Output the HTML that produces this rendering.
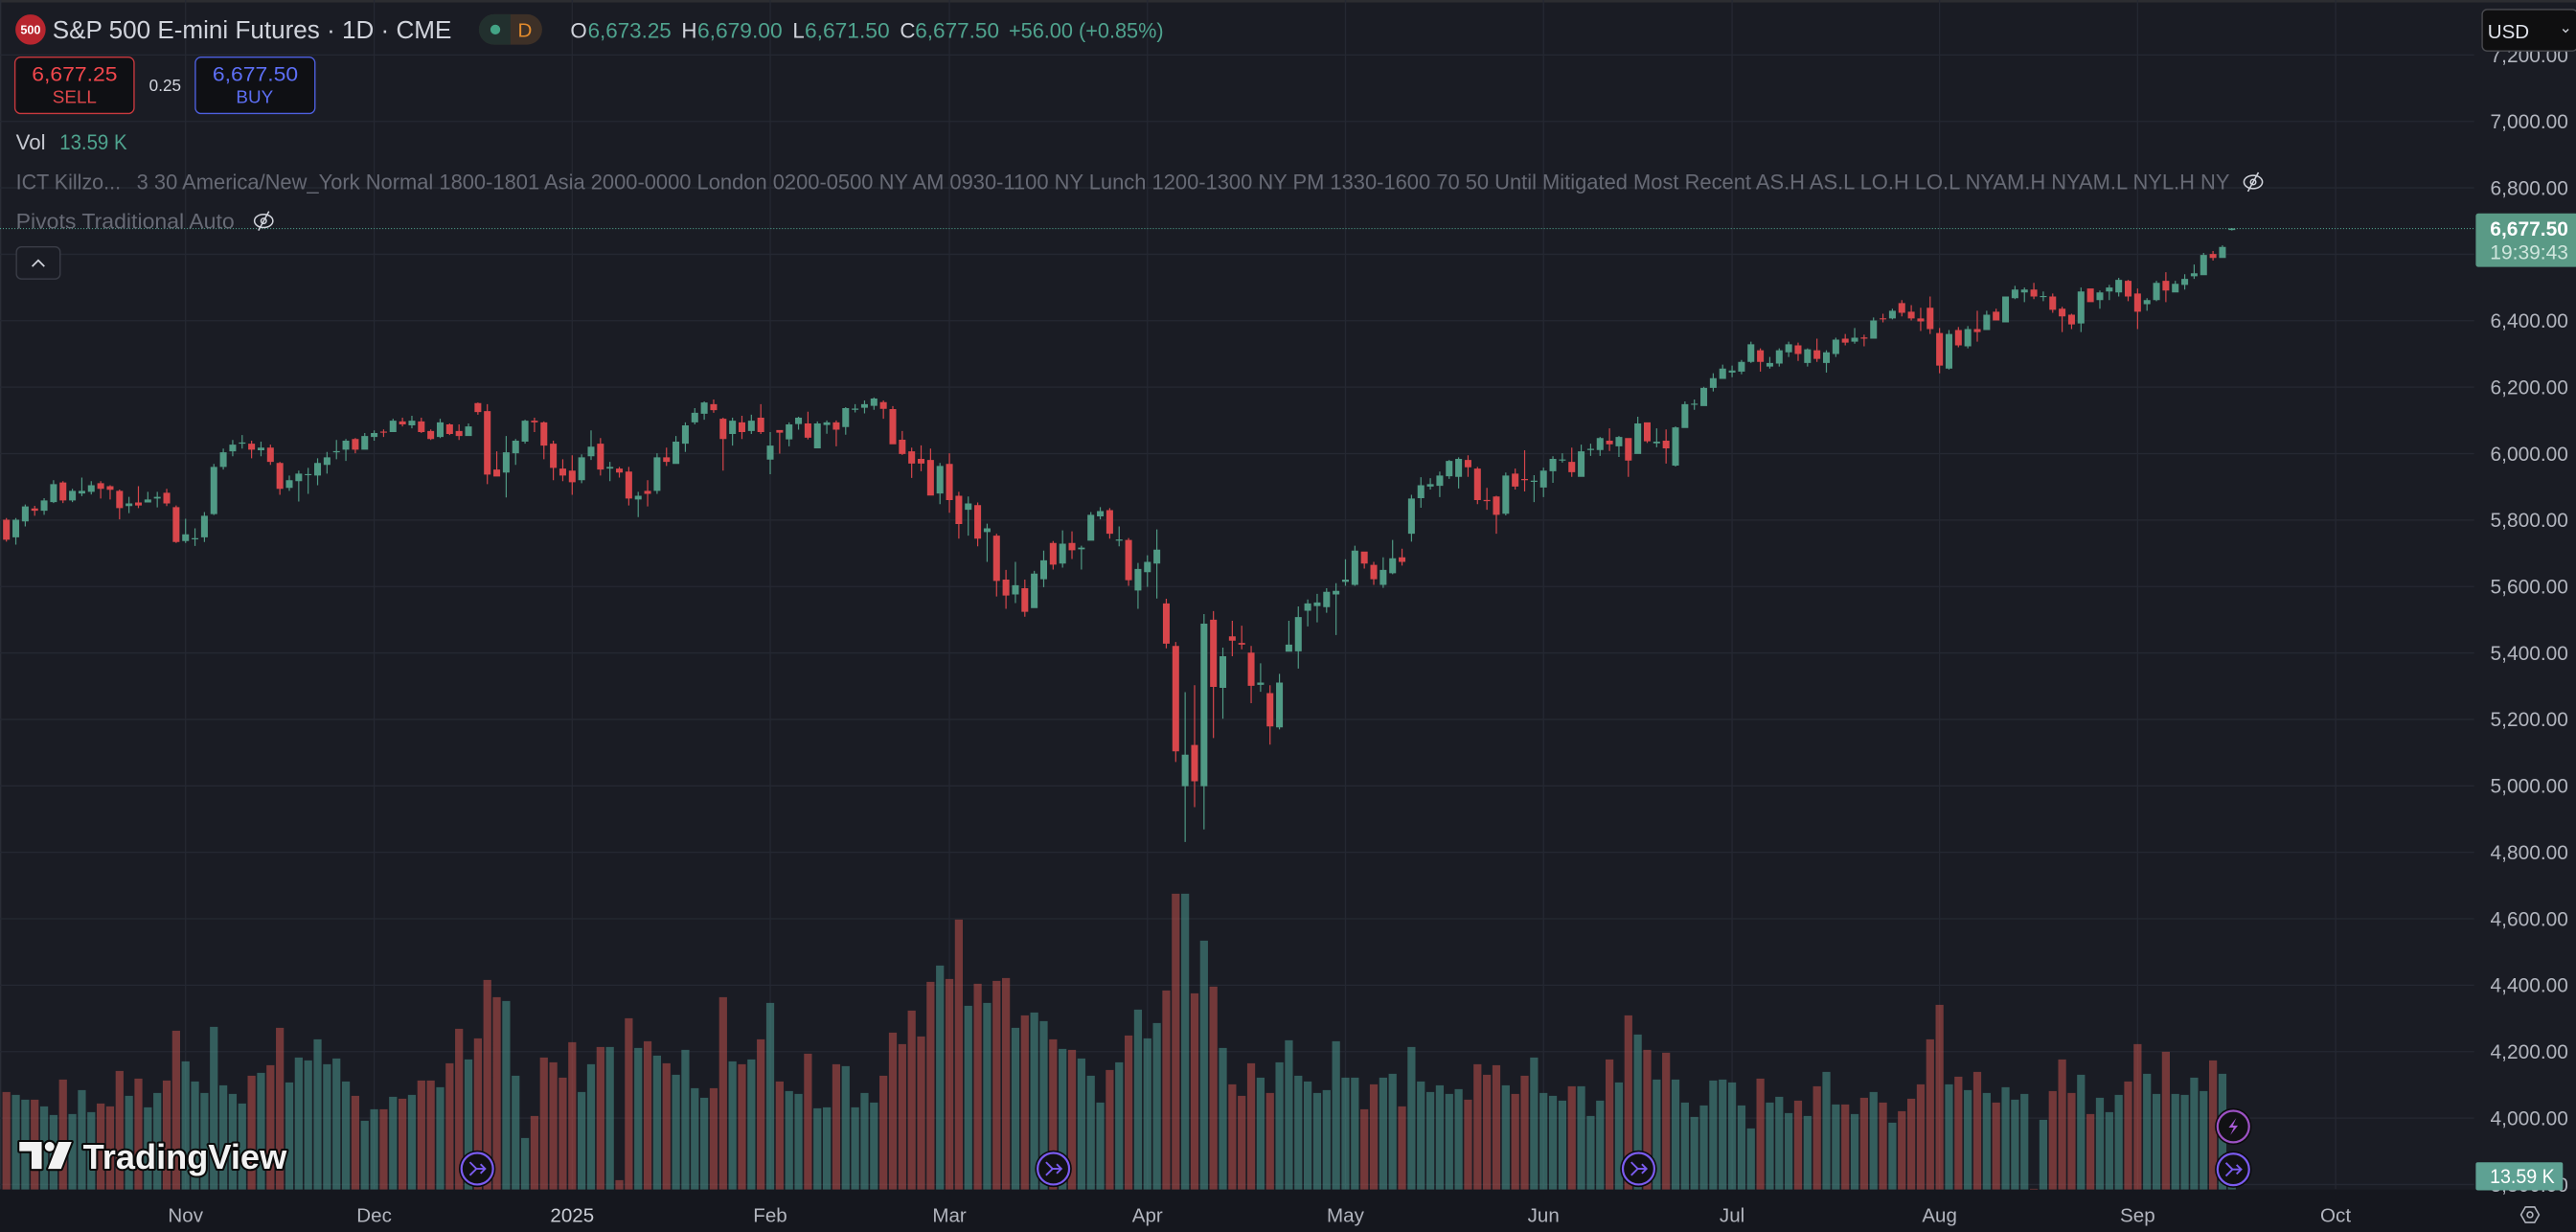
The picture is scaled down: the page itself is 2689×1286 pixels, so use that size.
<!DOCTYPE html>
<html>
<head>
<meta charset="utf-8">
<style>
html,body{margin:0;padding:0;background:#1a1c24;overflow:hidden;}
svg{display:block;}
text{font-family:"Liberation Sans",sans-serif;}
</style>
</head>
<body>
<svg xmlns="http://www.w3.org/2000/svg" width="2689" height="1286" viewBox="0 0 1568 750" preserveAspectRatio="none">
<rect x="0" y="0" width="1568" height="750" fill="#1a1c24"/>
<rect x="0" y="724.1" width="1568" height="26" fill="#15171e"/>
<rect x="0" y="0" width="1568" height="1.5" fill="#2c2d31"/>
<line x1="0.4" y1="0" x2="0.4" y2="724" stroke="#2a2d36" stroke-width="0.8"/>
<g stroke="#252832" stroke-width="0.75">
<line x1="0" x2="1506" y1="33.45" y2="33.45"/>
<line x1="0" x2="1506" y1="73.9" y2="73.9"/>
<line x1="0" x2="1506" y1="114.35" y2="114.35"/>
<line x1="0" x2="1506" y1="154.8" y2="154.8"/>
<line x1="0" x2="1506" y1="195.25" y2="195.25"/>
<line x1="0" x2="1506" y1="235.7" y2="235.7"/>
<line x1="0" x2="1506" y1="276.15" y2="276.15"/>
<line x1="0" x2="1506" y1="316.6" y2="316.6"/>
<line x1="0" x2="1506" y1="357.05" y2="357.05"/>
<line x1="0" x2="1506" y1="397.5" y2="397.5"/>
<line x1="0" x2="1506" y1="437.95" y2="437.95"/>
<line x1="0" x2="1506" y1="478.4" y2="478.4"/>
<line x1="0" x2="1506" y1="518.85" y2="518.85"/>
<line x1="0" x2="1506" y1="559.3" y2="559.3"/>
<line x1="0" x2="1506" y1="599.75" y2="599.75"/>
<line x1="0" x2="1506" y1="640.2" y2="640.2"/>
<line x1="0" x2="1506" y1="680.65" y2="680.65"/>
<line x1="0" x2="1506" y1="721.1" y2="721.1"/>
<line y1="0" y2="724" x1="112.96" x2="112.96"/>
<line y1="0" y2="724" x1="227.76" x2="227.76"/>
<line y1="0" y2="724" x1="348.3" x2="348.3"/>
<line y1="0" y2="724" x1="468.84" x2="468.84"/>
<line y1="0" y2="724" x1="577.9" x2="577.9"/>
<line y1="0" y2="724" x1="698.44" x2="698.44"/>
<line y1="0" y2="724" x1="818.98" x2="818.98"/>
<line y1="0" y2="724" x1="939.52" x2="939.52"/>
<line y1="0" y2="724" x1="1054.32" x2="1054.32"/>
<line y1="0" y2="724" x1="1180.6" x2="1180.6"/>
<line y1="0" y2="724" x1="1301.14" x2="1301.14"/>
<line y1="0" y2="724" x1="1421.68" x2="1421.68"/>
</g>

<!-- Volume -->
<g transform="matrix(5.74 0 0 0.1944 1.5 536.5)">
<path fill="#4ea096" fill-opacity="0.5" d="M1 669h.836V965h-.836zM2 684h.836V965h-.836zM4 705h.836V965h-.836zM5 732h.836V965h-.836zM7 729h.836V965h-.836zM8 654h.836V965h-.836zM9 723h.836V965h-.836zM13 672h.836V965h-.836zM15 708h.836V965h-.836zM16 663h.836V965h-.836zM19 564h.836V965h-.836zM20 627h.836V965h-.836zM21 663h.836V965h-.836zM22 456h.836V965h-.836zM23 639h.836V965h-.836zM24 666h.836V965h-.836zM25 696h.836V965h-.836zM27 600h.836V965h-.836zM30 630h.836V965h-.836zM31 552h.836V965h-.836zM32 561h.836V965h-.836zM33 495h.836V965h-.836zM34 573h.836V965h-.836zM35 555h.836V965h-.836zM36 627h.836V965h-.836zM38 750h.836V965h-.836zM39 714h.836V965h-.836zM41 675h.836V965h-.836zM43 669h.836V965h-.836zM46 645h.836V965h-.836zM49 558h.836V965h-.836zM53 375h.836V965h-.836zM54 609h.836V965h-.836zM55 804h.836V965h-.836zM61 660h.836V965h-.836zM62 573h.836V965h-.836zM64 519h.836V965h-.836zM67 522h.836V965h-.836zM69 546h.836V965h-.836zM71 606h.836V965h-.836zM72 528h.836V965h-.836zM73 648h.836V965h-.836zM74 678h.836V965h-.836zM77 564h.836V965h-.836zM79 558h.836V965h-.836zM81 381h.836V965h-.836zM83 657h.836V965h-.836zM84 666h.836V965h-.836zM86 711h.836V965h-.836zM87 708h.836V965h-.836zM89 579h.836V965h-.836zM90 708h.836V965h-.836zM91 663h.836V965h-.836zM92 693h.836V965h-.836zM99 264h.836V965h-.836zM102 390h.836V965h-.836zM104 381h.836V965h-.836zM107 459h.836V965h-.836zM109 411h.836V965h-.836zM110 438h.836V965h-.836zM112 525h.836V965h-.836zM114 555h.836V965h-.836zM115 609h.836V965h-.836zM116 693h.836V965h-.836zM118 567h.836V965h-.836zM120 402h.836V965h-.836zM121 492h.836V965h-.836zM122 444h.836V965h-.836zM125 39h.836V965h-.836zM127 186h.836V965h-.836zM129 522h.836V965h-.836zM133 615h.836V965h-.836zM135 567h.836V965h-.836zM136 498h.836V965h-.836zM137 609h.836V965h-.836zM138 627h.836V965h-.836zM139 663h.836V965h-.836zM140 654h.836V965h-.836zM141 501h.836V965h-.836zM142 615h.836V965h-.836zM143 615h.836V965h-.836zM146 615h.836V965h-.836zM147 603h.836V965h-.836zM149 519h.836V965h-.836zM150 627h.836V965h-.836zM151 660h.836V965h-.836zM152 639h.836V965h-.836zM153 666h.836V965h-.836zM154 651h.836V965h-.836zM159 639h.836V965h-.836zM162 552h.836V965h-.836zM163 663h.836V965h-.836zM164 672h.836V965h-.836zM165 687h.836V965h-.836zM167 642h.836V965h-.836zM168 735h.836V965h-.836zM169 687h.836V965h-.836zM171 630h.836V965h-.836zM173 480h.836V965h-.836zM175 621h.836V965h-.836zM177 621h.836V965h-.836zM178 693h.836V965h-.836zM179 738h.836V965h-.836zM180 702h.836V965h-.836zM181 624h.836V965h-.836zM182 621h.836V965h-.836zM183 630h.836V965h-.836zM184 702h.836V965h-.836zM185 774h.836V965h-.836zM187 693h.836V965h-.836zM188 675h.836V965h-.836zM189 726h.836V965h-.836zM191 735h.836V965h-.836zM193 597h.836V965h-.836zM194 699h.836V965h-.836zM196 729h.836V965h-.836zM198 660h.836V965h-.836zM200 756h.836V965h-.836zM206 636h.836V965h-.836zM208 654h.836V965h-.836zM210 663h.836V965h-.836zM212 645h.836V965h-.836zM213 684h.836V965h-.836zM214 666h.836V965h-.836zM216 747h.836V965h-.836zM220 606h.836V965h-.836zM222 678h.836V965h-.836zM223 723h.836V965h-.836zM224 669h.836V965h-.836zM227 603h.836V965h-.836zM228 666h.836V965h-.836zM230 666h.836V965h-.836zM231 669h.836V965h-.836zM232 615h.836V965h-.836zM233 657h.836V965h-.836zM235 603h.836V965h-.836zM236 955h.836V965h-.836z"/>
<path fill="#cc544e" fill-opacity="0.5" d="M0 660h.836V965h-.836zM3 684h.836V965h-.836zM6 621h.836V965h-.836zM10 696h.836V965h-.836zM11 705h.836V965h-.836zM12 594h.836V965h-.836zM14 618h.836V965h-.836zM17 624h.836V965h-.836zM18 468h.836V965h-.836zM26 609h.836V965h-.836zM28 576h.836V965h-.836zM29 459h.836V965h-.836zM37 672h.836V965h-.836zM40 714h.836V965h-.836zM42 681h.836V965h-.836zM44 624h.836V965h-.836zM45 624h.836V965h-.836zM47 570h.836V965h-.836zM48 462h.836V965h-.836zM50 492h.836V965h-.836zM51 309h.836V965h-.836zM52 363h.836V965h-.836zM56 735h.836V965h-.836zM57 552h.836V965h-.836zM58 567h.836V965h-.836zM59 615h.836V965h-.836zM60 504h.836V965h-.836zM63 519h.836V965h-.836zM65 936h.836V965h-.836zM66 429h.836V965h-.836zM68 501h.836V965h-.836zM70 570h.836V965h-.836zM75 648h.836V965h-.836zM76 363h.836V965h-.836zM78 573h.836V965h-.836zM80 495h.836V965h-.836zM82 627h.836V965h-.836zM85 540h.836V965h-.836zM88 573h.836V965h-.836zM93 609h.836V965h-.836zM94 474h.836V965h-.836zM95 510h.836V965h-.836zM96 405h.836V965h-.836zM97 486h.836V965h-.836zM98 315h.836V965h-.836zM100 306h.836V965h-.836zM101 120h.836V965h-.836zM103 321h.836V965h-.836zM105 312h.836V965h-.836zM106 303h.836V965h-.836zM108 420h.836V965h-.836zM111 495h.836V965h-.836zM113 528h.836V965h-.836zM117 591h.836V965h-.836zM119 483h.836V965h-.836zM123 342h.836V965h-.836zM124 39h.836V965h-.836zM126 351h.836V965h-.836zM128 330h.836V965h-.836zM130 636h.836V965h-.836zM131 672h.836V965h-.836zM132 570h.836V965h-.836zM134 663h.836V965h-.836zM144 714h.836V965h-.836zM145 636h.836V965h-.836zM148 705h.836V965h-.836zM155 684h.836V965h-.836zM156 573h.836V965h-.836zM157 606h.836V965h-.836zM158 576h.836V965h-.836zM160 666h.836V965h-.836zM161 609h.836V965h-.836zM166 642h.836V965h-.836zM170 558h.836V965h-.836zM172 420h.836V965h-.836zM174 528h.836V965h-.836zM176 537h.836V965h-.836zM186 618h.836V965h-.836zM190 687h.836V965h-.836zM192 642h.836V965h-.836zM195 699h.836V965h-.836zM197 678h.836V965h-.836zM199 693h.836V965h-.836zM201 720h.836V965h-.836zM202 681h.836V965h-.836zM203 636h.836V965h-.836zM204 495h.836V965h-.836zM205 387h.836V965h-.836zM207 612h.836V965h-.836zM209 597h.836V965h-.836zM211 693h.836V965h-.836zM215 963h.836V965h-.836zM217 657h.836V965h-.836zM218 558h.836V965h-.836zM219 663h.836V965h-.836zM221 729h.836V965h-.836zM225 627h.836V965h-.836zM226 510h.836V965h-.836zM229 534h.836V965h-.836zM234 561h.836V965h-.836z"/>
</g>

<!-- Candles -->
<g transform="matrix(5.74 0 0 -0.20225 1.85 1489.65)">
<path fill="#509a85" d="M1 5748h.714V5801h-.714zM1.297 5726h.12V5806h-.12zM2 5796h.714V5841h-.714zM2.297 5781h.12V5847h-.12zM4 5828h.714V5859h-.714zM4.297 5816h.12V5866h-.12zM5 5854h.714V5908h-.714zM5.297 5851h.12V5920h-.12zM7 5859h.714V5888h-.714zM7.297 5854h.12V5894h-.12zM8 5880h.714V5888h-.714zM8.297 5872h.12V5928h-.12zM9 5885h.714V5905h-.714zM9.297 5877h.12V5917h-.12zM13 5842h.714V5850h-.714zM13.297 5821h.12V5870h-.12zM15 5853h.714V5862h-.714zM15.297 5853h.12V5885h-.12zM16 5865h.714V5870h-.714zM16.297 5838h.12V5885h-.12zM19 5737h.714V5757h-.714zM19.297 5731h.12V5804h-.12zM20 5742h.714V5745.5h-.714zM20.297 5722h.12V5775h-.12zM21 5748h.714V5813h-.714zM21.297 5734h.12V5824h-.12zM22 5818h.714V5960h-.714zM22.297 5815h.12V5969h-.12zM23 5960h.714V6004h-.714zM23.297 5952h.12V6015h-.12zM24 6007h.714V6027h-.714zM24.297 5992h.12V6041h-.12zM25 6030h.714V6033.5h-.714zM25.297 6015h.12V6056h-.12zM27 6010h.714V6018h-.714zM27.297 5992h.12V6036h-.12zM30 5897h.714V5920h-.714zM30.297 5888h.12V5934h-.12zM31 5917h.714V5940h-.714zM31.297 5856h.12V5949h-.12zM32 5935h.714V5938.5h-.714zM32.297 5879h.12V5957h-.12zM33 5934h.714V5972h-.714zM33.297 5905h.12V5986h-.12zM34 5966h.714V5989h-.714zM34.297 5940h.12V6005h-.12zM35 6004h.714V6007.5h-.714zM35.297 5983h.12V6041h-.12zM36 6012h.714V6039h-.714zM36.297 5978h.12V6044h-.12zM38 6012h.714V6053h-.714zM38.297 6012h.12V6062h-.12zM39 6050h.714V6062h-.714zM39.297 6039h.12V6070h-.12zM41 6065h.714V6099h-.714zM41.297 6065h.12V6105h-.12zM43 6085h.714V6099h-.714zM43.297 6076h.12V6114h-.12zM46 6050h.714V6094h-.714zM46.297 6047h.12V6105h-.12zM49 6053h.714V6082h-.714zM49.297 6053h.12V6091h-.12zM53 5943h.714V6004h-.714zM53.297 5868h.12V6053h-.12zM54 6001h.714V6039h-.714zM54.297 5966h.12V6044h-.12zM55 6036h.714V6099h-.714zM55.297 6030h.12V6102h-.12zM61 5920h.714V5989h-.714zM61.297 5911h.12V5998h-.12zM62 5992h.714V6021h-.714zM62.297 5981h.12V6070h-.12zM64 5955h.714V5960h-.714zM64.297 5917h.12V5975h-.12zM67 5862h.714V5873h-.714zM67.297 5809h.12V5885h-.12zM69 5888h.714V5989h-.714zM69.297 5879h.12V6001h-.12zM71 5969h.714V6036h-.714zM71.297 5969h.12V6053h-.12zM72 6030h.714V6085h-.714zM72.297 6005h.12V6094h-.12zM73 6094h.714V6123h-.714zM73.297 6088h.12V6137h-.12zM74 6120h.714V6154h-.714zM74.297 6102h.12V6157h-.12zM77 6059h.714V6099h-.714zM77.297 6024h.12V6108h-.12zM79 6068h.714V6099h-.714zM79.297 6059h.12V6117h-.12zM81 5982h.714V6024h-.714zM81.297 5938h.12V6065h-.12zM83 6043h.714V6088h-.714zM83.297 6022h.12V6094h-.12zM84 6089h.714V6108h-.714zM84.297 6072h.12V6111h-.12zM86 6016h.714V6091h-.714zM86.297 6016h.12V6097h-.12zM87 6086h.714V6094h-.714zM87.297 6060h.12V6100h-.12zM89 6080h.714V6137h-.714zM89.297 6057h.12V6140h-.12zM90 6132h.714V6135.5h-.714zM90.297 6124h.12V6149h-.12zM91 6138h.714V6149h-.714zM91.297 6121h.12V6160h-.12zM92 6144h.714V6166h-.714zM92.297 6132h.12V6169h-.12zM99 5880h.714V5963h-.714zM99.297 5848h.12V5972h-.12zM102 5831h.714V5850h-.714zM102.297 5753h.12V5871h-.12zM104 5764h.714V5775h-.714zM104.297 5674h.12V5789h-.12zM107 5576h.714V5604h-.714zM107.297 5550h.12V5674h-.12zM109 5535h.714V5639h-.714zM109.297 5535h.12V5647h-.12zM110 5622h.714V5679h-.714zM110.297 5598h.12V5708h-.12zM112 5669h.714V5729h-.714zM112.297 5657h.12V5769h-.12zM114 5712h.714V5717h-.714zM114.297 5651h.12V5723h-.12zM115 5738h.714V5816h-.714zM115.297 5738h.12V5824h-.12zM116 5811h.714V5827h-.714zM116.297 5802h.12V5839h-.12zM118 5738h.714V5741.5h-.714zM118.297 5721h.12V5781h-.12zM120 5588h.714V5653h-.714zM120.297 5533h.12V5671h-.12zM121 5643h.714V5674h-.714zM121.297 5599h.12V5694h-.12zM122 5669h.714V5711h-.714zM122.297 5564h.12V5772h-.12zM125 4999h.714V5094h-.714zM125.297 4831h.12V5282h-.12zM127 4999h.714V5488h-.714zM127.297 4869h.12V5517h-.12zM129 5295h.714V5390h-.714zM129.297 5202h.12V5416h-.12zM133 5304h.714V5311h-.714zM133.297 5283h.12V5369h-.12zM135 5176h.714V5311h-.714zM135.297 5170h.12V5337h-.12zM136 5404h.714V5425h-.714zM136.297 5404h.12V5497h-.12zM137 5405h.714V5508h-.714zM137.297 5353h.12V5540h-.12zM138 5527h.714V5549h-.714zM138.297 5480h.12V5561h-.12zM139 5541h.714V5552h-.714zM139.297 5492h.12V5578h-.12zM140 5538h.714V5584h-.714zM140.297 5521h.12V5595h-.12zM141 5576h.714V5587h-.714zM141.297 5454h.12V5610h-.12zM142 5614h.714V5621h-.714zM142.297 5602h.12V5682h-.12zM143 5605h.714V5708h-.714zM143.297 5602h.12V5723h-.12zM146 5605h.714V5650h-.714zM146.297 5596h.12V5688h-.12zM147 5640h.714V5685h-.714zM147.297 5637h.12V5740h-.12zM149 5759h.714V5865h-.714zM149.297 5735h.12V5876h-.12zM150 5866h.714V5905h-.714zM150.297 5837h.12V5929h-.12zM151 5901h.714V5908h-.714zM151.297 5892h.12V5926h-.12zM152 5903h.714V5934h-.714zM152.297 5869h.12V5946h-.12zM153 5932h.714V5978h-.714zM153.297 5924h.12V5981h-.12zM154 5930h.714V5984h-.714zM154.297 5895h.12V5989h-.12zM159 5819h.714V5934h-.714zM159.297 5814h.12V5943h-.12zM162 5915h.714V5918.5h-.714zM162.297 5854h.12V5935h-.12zM163 5898h.714V5949h-.714zM163.297 5869h.12V5958h-.12zM164 5947h.714V5984h-.714zM164.297 5912h.12V5992h-.12zM165 5979h.714V5982.5h-.714zM165.297 5973h.12V6001h-.12zM167 5930h.714V6007h-.714zM167.297 5930h.12V6027h-.12zM168 6011h.714V6014.5h-.714zM168.297 5993h.12V6030h-.12zM169 6011h.714V6047h-.714zM169.297 5993h.12V6050h-.12zM171 6022h.714V6050h-.714zM171.297 5990h.12V6053h-.12zM173 5999h.714V6091h-.714zM173.297 5999h.12V6111h-.12zM175 6031h.714V6036h-.714zM175.297 6019h.12V6076h-.12zM177 5964h.714V6079h-.714zM177.297 5961h.12V6082h-.12zM178 6077h.714V6149h-.714zM178.297 6077h.12V6157h-.12zM179 6147h.714V6150.5h-.714zM179.297 6132h.12V6163h-.12zM180 6143h.714V6198h-.714zM180.297 6143h.12V6201h-.12zM181 6198h.714V6227h-.714zM181.297 6187h.12V6242h-.12zM182 6225h.714V6256h-.714zM182.297 6225h.12V6268h-.12zM183 6244h.714V6250h-.714zM183.297 6230h.12V6265h-.12zM184 6247h.714V6276h-.714zM184.297 6239h.12V6282h-.12zM185 6276h.714V6329h-.714zM185.297 6273h.12V6337h-.12zM187 6262h.714V6273h-.714zM187.297 6256h.12V6291h-.12zM188 6271h.714V6311h-.714zM188.297 6262h.12V6317h-.12zM189 6305h.714V6329h-.714zM189.297 6291h.12V6337h-.12zM191 6273h.714V6314h-.714zM191.297 6262h.12V6317h-.12zM193 6273h.714V6305h-.714zM193.297 6244h.12V6311h-.12zM194 6300h.714V6343h-.714zM194.297 6291h.12V6349h-.12zM196 6337h.714V6349h-.714zM196.297 6331h.12V6378h-.12zM198 6346h.714V6401h-.714zM198.297 6346h.12V6410h-.12zM200 6407h.714V6430h-.714zM200.297 6404h.12V6436h-.12zM206 6256h.714V6360h-.714zM206.297 6253h.12V6372h-.12zM208 6323h.714V6375h-.714zM208.297 6317h.12V6384h-.12zM210 6372h.714V6418h-.714zM210.297 6372h.12V6430h-.12zM212 6395h.714V6473h-.714zM212.297 6395h.12V6473h-.12zM213 6468h.714V6494h-.714zM213.297 6465h.12V6505h-.12zM214 6485h.714V6494h-.714zM214.297 6456h.12V6500h-.12zM216 6471h.714V6474.5h-.714zM216.297 6459h.12V6488h-.12zM220 6392h.714V6488h-.714zM220.297 6366h.12V6500h-.12zM222 6462h.714V6485h-.714zM222.297 6436h.12V6491h-.12zM223 6488h.714V6500h-.714zM223.297 6462h.12V6508h-.12zM224 6485h.714V6523h-.714zM224.297 6473h.12V6529h-.12zM227 6450h.714V6462h-.714zM227.297 6430h.12V6468h-.12zM228 6462h.714V6514h-.714zM228.297 6459h.12V6520h-.12zM230 6485h.714V6511h-.714zM230.297 6485h.12V6520h-.12zM231 6508h.714V6526h-.714zM231.297 6494h.12V6540h-.12zM232 6534h.714V6543h-.714zM232.297 6526h.12V6569h-.12zM233 6537h.714V6598h-.714zM233.297 6537h.12V6604h-.12zM235 6589h.714V6622h-.714zM235.297 6589h.12V6627h-.12zM236 6673h.714V6677.5h-.714zM236.297 6671.5h.12V6679h-.12z"/>
<path fill="#d8464b" d="M0 5741h.714V5801h-.714zM0.297 5735h.12V5806h-.12zM3 5828h.714V5835h-.714zM3.297 5813h.12V5843h-.12zM6 5859h.714V5913h-.714zM6.297 5851h.12V5917h-.12zM10 5894h.714V5911h-.714zM10.297 5865h.12V5917h-.12zM11 5891h.714V5902h-.714zM11.297 5862h.12V5905h-.12zM12 5836h.714V5888h-.714zM12.297 5802h.12V5892h-.12zM14 5844h.714V5853h-.714zM14.297 5836h.12V5902h-.12zM17 5850h.714V5882h-.714zM17.297 5842h.12V5894h-.12zM18 5734h.714V5839h-.714zM18.297 5731h.12V5844h-.12zM26 6012h.714V6030h-.714zM26.297 5986h.12V6039h-.12zM28 5975h.714V6018h-.714zM28.297 5966h.12V6027h-.12zM29 5894h.714V5972h-.714zM29.297 5876h.12V5975h-.12zM37 6012h.714V6044h-.714zM37.297 6001h.12V6047h-.12zM40 6063h.714V6066.5h-.714zM40.297 6050h.12V6073h-.12zM42 6088h.714V6097h-.714zM42.297 6082h.12V6108h-.12zM44 6065h.714V6097h-.714zM44.297 6062h.12V6108h-.12zM45 6044h.714V6068h-.714zM45.297 6041h.12V6073h-.12zM47 6059h.714V6088h-.714zM47.297 6056h.12V6091h-.12zM48 6053h.714V6068h-.714zM48.297 6041h.12V6088h-.12zM50 6125h.714V6152h-.714zM50.297 6117h.12V6154h-.12zM51 5937h.714V6128h-.714zM51.297 5908h.12V6149h-.12zM52 5931h.714V5952h-.714zM52.297 5931h.12V6007h-.12zM56 6094h.714V6099h-.714zM56.297 6065h.12V6108h-.12zM57 6024h.714V6094h-.714zM57.297 5983h.12V6097h-.12zM58 5957h.714V6030h-.714zM58.297 5920h.12V6039h-.12zM59 5934h.714V5955h-.714zM59.297 5917h.12V5983h-.12zM60 5914h.714V5949h-.714zM60.297 5876h.12V5995h-.12zM63 5952h.714V6030h-.714zM63.297 5934h.12V6047h-.12zM65 5943h.714V5955h-.714zM65.297 5928h.12V5960h-.12zM66 5865h.714V5946h-.714zM66.297 5844h.12V5960h-.12zM68 5879h.714V5888h-.714zM68.297 5841h.12V5920h-.12zM70 5975h.714V5989h-.714zM70.297 5963h.12V6018h-.12zM75 6131h.714V6149h-.714zM75.297 6123h.12V6163h-.12zM76 6044h.714V6105h-.714zM76.297 5949h.12V6108h-.12zM78 6065h.714V6094h-.714zM78.297 6044h.12V6114h-.12zM80 6065h.714V6108h-.714zM80.297 6059h.12V6149h-.12zM82 6063h.714V6071h-.714zM82.297 6000h.12V6071h-.12zM85 6048h.714V6091h-.714zM85.297 6043h.12V6126h-.12zM88 6072h.714V6094h-.714zM88.297 6022h.12V6100h-.12zM93 6135h.714V6155h-.714zM93.297 6105h.12V6160h-.12zM94 6028h.714V6134h-.714zM94.297 6028h.12V6143h-.12zM95 5999h.714V6042h-.714zM95.297 5996h.12V6068h-.12zM96 5970h.714V6007h-.714zM96.297 5927h.12V6018h-.12zM97 5970h.714V5984h-.714zM97.297 5947h.12V6025h-.12zM98 5874h.714V5981h-.714zM98.297 5874h.12V6015h-.12zM100 5860h.714V5969h-.714zM100.297 5822h.12V6001h-.12zM101 5788h.714V5873h-.714zM101.297 5744h.12V5885h-.12zM103 5744h.714V5845h-.714zM103.297 5721h.12V5853h-.12zM105 5617h.714V5753h-.714zM105.297 5570h.12V5759h-.12zM106 5573h.714V5621h-.714zM106.297 5533h.12V5650h-.12zM108 5524h.714V5595h-.714zM108.297 5509h.12V5621h-.12zM111 5666h.714V5731h-.714zM111.297 5651h.12V5737h-.12zM113 5709h.714V5731h-.714zM113.297 5683h.12V5766h-.12zM117 5759h.714V5830h-.714zM117.297 5744h.12V5836h-.12zM119 5619h.714V5740h-.714zM119.297 5602h.12V5746h-.12zM123 5428h.714V5549h-.714zM123.297 5414h.12V5563h-.12zM124 5104h.714V5421h-.714zM124.297 5072h.12V5433h-.12zM126 5014h.714V5123h-.714zM126.297 4936h.12V5303h-.12zM128 5298h.714V5500h-.714zM128.297 5144h.12V5526h-.12zM130 5437h.714V5450h-.714zM130.297 5390h.12V5497h-.12zM131 5425h.714V5430h-.714zM131.297 5411h.12V5482h-.12zM132 5301h.714V5401h-.714zM132.297 5249h.12V5421h-.12zM134 5179h.714V5279h-.714zM134.297 5124h.12V5303h-.12zM144 5669h.714V5705h-.714zM144.297 5654h.12V5705h-.12zM145 5622h.714V5665h-.714zM145.297 5605h.12V5674h-.12zM148 5674h.714V5688h-.714zM148.297 5663h.12V5714h-.12zM155 5959h.714V5981h-.714zM155.297 5930h.12V5995h-.12zM156 5860h.714V5955h-.714zM156.297 5848h.12V5960h-.12zM157 5857h.714V5860.5h-.714zM157.297 5831h.12V5897h-.12zM158 5816h.714V5871h-.714zM158.297 5759h.12V5873h-.12zM160 5901h.714V5940h-.714zM160.297 5892h.12V5955h-.12zM161 5920h.714V5923.5h-.714zM161.297 5886h.12V6010h-.12zM166 5944h.714V5975h-.714zM166.297 5930h.12V6018h-.12zM170 6028h.714V6039h-.714zM170.297 6008h.12V6076h-.12zM172 5979h.714V6047h-.714zM172.297 5930h.12V6047h-.12zM174 6037h.714V6094h-.714zM174.297 6032h.12V6094h-.12zM176 6016h.714V6039h-.714zM176.297 5970h.12V6073h-.12zM186 6276h.714V6311h-.714zM186.297 6247h.12V6317h-.12zM190 6300h.714V6326h-.714zM190.297 6279h.12V6334h-.12zM192 6285h.714V6311h-.714zM192.297 6276h.12V6346h-.12zM195 6334h.714V6346h-.714zM195.297 6326h.12V6360h-.12zM197 6346h.714V6349.5h-.714zM197.297 6323h.12V6358h-.12zM199 6404h.714V6407.5h-.714zM199.297 6395h.12V6421h-.12zM201 6424h.714V6453h-.714zM201.297 6413h.12V6462h-.12zM202 6407h.714V6427h-.714zM202.297 6401h.12V6447h-.12zM203 6398h.714V6407h-.714zM203.297 6369h.12V6439h-.12zM204 6375h.714V6439h-.714zM204.297 6360h.12V6473h-.12zM205 6265h.714V6363h-.714zM205.297 6242h.12V6378h-.12zM207 6326h.714V6372h-.714zM207.297 6320h.12V6381h-.12zM209 6366h.714V6375h-.714zM209.297 6337h.12V6430h-.12zM211 6401h.714V6427h-.714zM211.297 6401h.12V6436h-.12zM215 6473h.714V6494h-.714zM215.297 6465h.12V6514h-.12zM217 6433h.714V6473h-.714zM217.297 6424h.12V6482h-.12zM218 6413h.714V6436h-.714zM218.297 6366h.12V6442h-.12zM219 6389h.714V6418h-.714zM219.297 6375h.12V6421h-.12zM221 6456h.714V6497h-.714zM221.297 6456h.12V6497h-.12zM225 6473h.714V6520h-.714zM225.297 6459h.12V6523h-.12zM226 6427h.714V6482h-.714zM226.297 6375h.12V6497h-.12zM229 6491h.714V6520h-.714zM229.297 6456h.12V6546h-.12zM234 6589h.714V6601h-.714zM234.297 6581h.12V6610h-.12z"/>
</g>

<line x1="0" x2="1506" y1="139.13" y2="139.13" stroke="#4e9f8b" stroke-width="0.7" stroke-dasharray="0.6 1.15"/>

<!-- Header -->
<circle cx="18.6" cy="18" r="9.2" fill="#b8262f"/>
<text x="18.6" y="20.6" font-size="7.4" fill="#ffffff" text-anchor="middle" font-weight="bold">500</text>
<text x="31.9" y="23.4" font-size="15.3" fill="#d1d4dc" textLength="243" lengthAdjust="spacingAndGlyphs">S&amp;P 500 E-mini Futures · 1D · CME</text>
<rect x="291.5" y="8.7" width="38.5" height="18.5" rx="9.25" fill="#3d3027"/>
<path d="M300.75,8.7 H310.75 V27.2 H300.75 A9.25,9.25 0 0 1 300.75,8.7 Z" fill="#22302e"/>
<circle cx="301.5" cy="18" r="3" fill="#43a385"/>
<text x="319.5" y="22.4" font-size="12" fill="#e38b2c" text-anchor="middle">D</text>

<g font-size="13">
<text x="347.2" y="23" fill="#d1d4dc">O</text>
<text x="357.8" y="23" fill="#4fa38e" textLength="50.8" lengthAdjust="spacingAndGlyphs">6,673.25</text>
<text x="414.8" y="23" fill="#d1d4dc">H</text>
<text x="424.5" y="23" fill="#4fa38e" textLength="51.7" lengthAdjust="spacingAndGlyphs">6,679.00</text>
<text x="482.5" y="23" fill="#d1d4dc">L</text>
<text x="489.8" y="23" fill="#4fa38e" textLength="51.7" lengthAdjust="spacingAndGlyphs">6,671.50</text>
<text x="547.8" y="23" fill="#d1d4dc">C</text>
<text x="557" y="23" fill="#4fa38e" textLength="51.2" lengthAdjust="spacingAndGlyphs">6,677.50</text>
<text x="614" y="23" fill="#4fa38e" textLength="94.3" lengthAdjust="spacingAndGlyphs">+56.00 (+0.85%)</text>
</g>

<rect x="9.1" y="34.8" width="72.5" height="34.3" rx="3.5" fill="#0f1014" stroke="#c9393e" stroke-width="0.8"/>
<text x="45.4" y="49.4" font-size="12.5" fill="#f0474c" text-anchor="middle" textLength="52" lengthAdjust="spacingAndGlyphs">6,677.25</text>
<text x="45.4" y="62.6" font-size="11" fill="#e0474b" text-anchor="middle">SELL</text>
<text x="100.5" y="55.4" font-size="10" fill="#d1d4dc" text-anchor="middle">0.25</text>
<rect x="118.9" y="34.8" width="72.8" height="34.3" rx="3.5" fill="#0f1014" stroke="#4e60e0" stroke-width="0.8"/>
<text x="155.4" y="49.4" font-size="12.5" fill="#5d6ff5" text-anchor="middle" textLength="52" lengthAdjust="spacingAndGlyphs">6,677.50</text>
<text x="155" y="62.6" font-size="11" fill="#5d6ff5" text-anchor="middle">BUY</text>

<text x="9.7" y="91" font-size="13" fill="#c5c8d0">Vol</text>
<text x="36.3" y="91" font-size="13" fill="#4fa38e" textLength="41" lengthAdjust="spacingAndGlyphs">13.59 K</text>

<text x="9.7" y="115.3" font-size="13" fill="#676a75" textLength="63.8" lengthAdjust="spacingAndGlyphs">ICT Killzo...</text>
<text x="83.2" y="115.3" font-size="13" fill="#676a75" textLength="1274" lengthAdjust="spacingAndGlyphs">3 30 America/New_York Normal 1800-1801 Asia 2000-0000 London 0200-0500 NY AM 0930-1100 NY Lunch 1200-1300 NY PM 1330-1600 70 50 Until Mitigated Most Recent AS.H AS.L LO.H LO.L NYAM.H NYAM.L NYL.H NY</text>
<g stroke="#d1d4dc" stroke-width="0.9" fill="none">
<ellipse cx="1371.5" cy="110.8" rx="5.6" ry="4"/>
<circle cx="1371.5" cy="110.8" r="1.6"/>
<line x1="1368.3" y1="116.6" x2="1374.7" y2="105"/>
</g>
<text x="9.7" y="139" font-size="13" fill="#676a75" textLength="133" lengthAdjust="spacingAndGlyphs">Pivots Traditional Auto</text>
<g stroke="#d1d4dc" stroke-width="0.9" fill="none">
<ellipse cx="160.5" cy="134.5" rx="5.6" ry="4"/>
<circle cx="160.5" cy="134.5" r="1.6"/>
<line x1="157.3" y1="140.3" x2="163.7" y2="128.7"/>
</g>
<rect x="10" y="150.3" width="26.6" height="19.5" rx="3" fill="#1a1c24" stroke="#3a3d47" stroke-width="0.8"/>
<polyline points="19.6,162.2 23.3,158.5 27,162.2" fill="none" stroke="#d1d4dc" stroke-width="1"/>

<!-- Price axis labels -->
<g font-size="12.2" fill="#b2b5be" text-anchor="end">
<text x="1563.3" y="37.8">7,200.00</text>
<text x="1563.3" y="78.2">7,000.00</text>
<text x="1563.3" y="118.6">6,800.00</text>
<text x="1563.3" y="199.5">6,400.00</text>
<text x="1563.3" y="240">6,200.00</text>
<text x="1563.3" y="280.4">6,000.00</text>
<text x="1563.3" y="320.9">5,800.00</text>
<text x="1563.3" y="361.3">5,600.00</text>
<text x="1563.3" y="401.8">5,400.00</text>
<text x="1563.3" y="442.2">5,200.00</text>
<text x="1563.3" y="482.7">5,000.00</text>
<text x="1563.3" y="523.1">4,800.00</text>
<text x="1563.3" y="563.6">4,600.00</text>
<text x="1563.3" y="604">4,400.00</text>
<text x="1563.3" y="644.5">4,200.00</text>
<text x="1563.3" y="684.9">4,000.00</text>
<text x="1563.3" y="725.4">3,800.00</text>
</g>

<rect x="1510.9" y="5.8" width="58" height="25.2" rx="3" fill="#0f0f10" stroke="#4a4b50" stroke-width="0.8"/>
<text x="1514.2" y="23.2" font-size="12" fill="#e0e3eb">USD</text>
<polyline points="1560,17.8 1561.7,19.5 1563.4,17.8" fill="none" stroke="#d1d4dc" stroke-width="0.8"/>

<rect x="1507" y="129.9" width="62" height="32.6" rx="1.5" fill="#5a9a86"/>
<text x="1563.3" y="143.5" font-size="12.2" fill="#ffffff" text-anchor="end" font-weight="bold" textLength="47.6" lengthAdjust="spacingAndGlyphs">6,677.50</text>
<text x="1563.3" y="157.9" font-size="12.2" fill="#cfe6dd" text-anchor="end" textLength="47.6" lengthAdjust="spacingAndGlyphs">19:39:43</text>

<rect x="1507" y="707.6" width="53" height="17" rx="1.2" fill="#5ea193"/>
<text x="1515.6" y="720.4" font-size="12.2" fill="#ffffff" textLength="39.4" lengthAdjust="spacingAndGlyphs">13.59 K</text>

<!-- Time axis labels -->
<g font-size="12" fill="#b2b5be" text-anchor="middle">
<text x="112.96" y="743.8">Nov</text>
<text x="227.76" y="743.8">Dec</text>
<text x="348.3" y="743.8" fill="#c9ccd4">2025</text>
<text x="468.84" y="743.8">Feb</text>
<text x="577.9" y="743.8">Mar</text>
<text x="698.44" y="743.8">Apr</text>
<text x="818.98" y="743.8">May</text>
<text x="939.52" y="743.8">Jun</text>
<text x="1054.32" y="743.8">Jul</text>
<text x="1180.6" y="743.8">Aug</text>
<text x="1301.14" y="743.8">Sep</text>
<text x="1421.68" y="743.8">Oct</text>
</g>
<polygon points="1534.5,739.5 1537.2,734.8 1542.8,734.8 1545.5,739.5 1542.8,744.2 1537.2,744.2" fill="none" stroke="#b2b5be" stroke-width="0.9"/>
<circle cx="1540" cy="739.5" r="1.7" fill="none" stroke="#b2b5be" stroke-width="0.9"/>

<!-- Event icons -->
<g transform="translate(290.5,711.5)">
<circle r="11.2" fill="#0b0b0d"/><circle r="9.6" fill="#111114" stroke="#7b5cf0" stroke-width="1.3"/>
<g stroke="#7b5cf0" stroke-width="1.1" fill="none"><polyline points="-4.5,-4 -0.5,0 -4.5,4"/><line x1="-0.5" y1="0" x2="4.8" y2="0"/><polyline points="2,-2.8 4.8,0 2,2.8"/></g>
</g>
<g transform="translate(641.2,711.5)">
<circle r="11.2" fill="#0b0b0d"/><circle r="9.6" fill="#111114" stroke="#7b5cf0" stroke-width="1.3"/>
<g stroke="#7b5cf0" stroke-width="1.1" fill="none"><polyline points="-4.5,-4 -0.5,0 -4.5,4"/><line x1="-0.5" y1="0" x2="4.8" y2="0"/><polyline points="2,-2.8 4.8,0 2,2.8"/></g>
</g>
<g transform="translate(997.4,711.5)">
<circle r="11.2" fill="#0b0b0d"/><circle r="9.6" fill="#111114" stroke="#7b5cf0" stroke-width="1.3"/>
<g stroke="#7b5cf0" stroke-width="1.1" fill="none"><polyline points="-4.5,-4 -0.5,0 -4.5,4"/><line x1="-0.5" y1="0" x2="4.8" y2="0"/><polyline points="2,-2.8 4.8,0 2,2.8"/></g>
</g>
<g transform="translate(1359.4,711.9)">
<circle r="11.2" fill="#0b0b0d"/><circle r="9.6" fill="#111114" stroke="#7b5cf0" stroke-width="1.3"/>
<g stroke="#7b5cf0" stroke-width="1.1" fill="none"><polyline points="-4.5,-4 -0.5,0 -4.5,4"/><line x1="-0.5" y1="0" x2="4.8" y2="0"/><polyline points="2,-2.8 4.8,0 2,2.8"/></g>
</g>
<g transform="translate(1359.4,685.8)">
<circle r="11.2" fill="#0b0b0d"/><circle r="9.6" fill="#111114" stroke="#9d52c4" stroke-width="1.3"/>
<path d="M1.8,-5.2 L-2.8,0.6 H0.3 L-1.8,5.2 L2.8,-0.6 H-0.3 Z" fill="#a85bd6"/>
</g>

<!-- TradingView watermark -->
<g stroke="#0a0a0a" stroke-width="2.4" stroke-linejoin="round" paint-order="stroke" fill="#f2f2f2">
<path d="M11.8,695.2 H25.4 V711.6 H19.2 V700.8 H11.8 Z"/>
<circle cx="30.2" cy="698" r="2.9"/>
<path d="M35.6,695.2 H43.6 L37.2,711.6 H29.2 Z"/>
<text x="50.5" y="711.6" font-size="20.8" font-weight="bold" textLength="124" lengthAdjust="spacingAndGlyphs">TradingView</text>
</g>
</svg>
</body>
</html>
